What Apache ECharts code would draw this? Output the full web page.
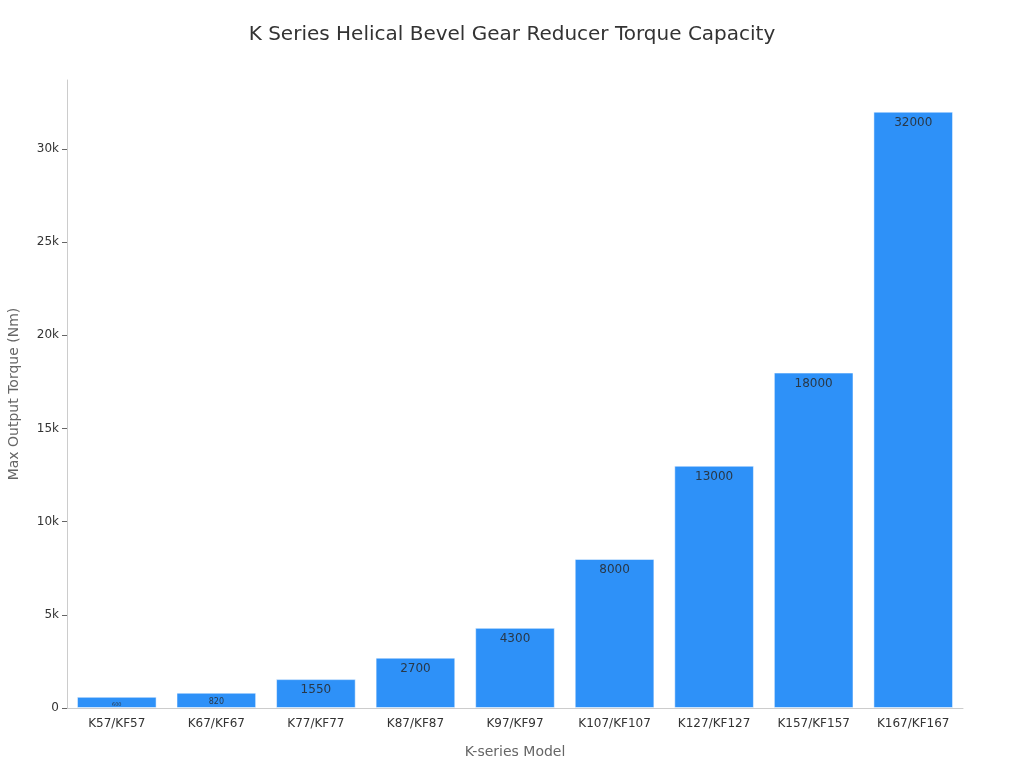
<!DOCTYPE html>
<html>
<head>
<meta charset="utf-8">
<script src="https://cdn.jsdelivr.net/npm/echarts@6/dist/echarts.min.js"></script>
<style>
html,body{margin:0;padding:0;background:#fff;}
#chart{width:1024px;height:768px;}
</style>
</head>
<body>
<div id="chart"></div>
<script>
// K series models and their max output torque (Nm)
var models=["K57/KF57","K67/KF67","K77/KF77","K87/KF87","K97/KF97","K107/KF107","K127/KF127","K157/KF157","K167/KF167"];
var torque=[600,820,1550,2700,4300,8000,13000,18000,32000];
// label sizes shrink on the short bars
var labelSizes=[5,8,12,12,12,12,12,12,12];

var barData=[];
for(var i=0;i<torque.length;i++){
    barData.push({
        value:torque[i],
        label:{fontSize:labelSizes[i]}
    });
}

var myChart=echarts.init(document.getElementById("chart"));
var option={
    backgroundColor:"#fff",
    textStyle:{fontFamily:"DejaVu Sans"},
    title:{
        text:"K Series Helical Bevel Gear Reducer Torque Capacity",
        left:"center",
        top:20,
        textStyle:{fontSize:20,fontWeight:"normal",color:"#333",fontFamily:"DejaVu Sans"}
    },
    grid:{left:67,right:61,top:80,bottom:60,containLabel:false,outerBoundsMode:"none"},
    xAxis:{
        type:"category",
        data:models,
        name:"K-series Model",
        nameLocation:"middle",
        nameGap:37,
        nameTextStyle:{fontSize:14,color:"#666"},
        axisLine:{lineStyle:{color:"#ccc"}},
        axisTick:{alignWithLabel:true,lineStyle:{color:"#666"}},
        axisLabel:{color:"#333",fontSize:12,margin:10}
    },
    yAxis:{
        type:"value",
        min:0,
        max:33700,
        interval:5000,
        name:"Max Output Torque (Nm)",
        nameLocation:"middle",
        nameGap:46,
        nameTextStyle:{fontSize:14,color:"#666"},
        axisLine:{show:true,lineStyle:{color:"#ccc"}},
        axisTick:{show:true,lineStyle:{color:"#666"}},
        splitLine:{show:false},
        axisLabel:{
            color:"#333",
            fontSize:12,
            showMaxLabel:false,
            formatter:function(v){return v===0?"0":(v/1000)+"k";}
        }
    },
    series:[{
        type:"bar",
        data:barData,
        barCategoryGap:"20%",
        itemStyle:{color:"#2E91F8",borderColor:"rgba(255,255,255,0.5)",borderWidth:1},
        label:{
            show:true,
            position:"insideTop",
            distance:5,
            color:"rgba(40,40,40,0.85)",
            fontSize:12
        }
    }]
};
myChart.setOption(option);
</script>
</body>
</html>
